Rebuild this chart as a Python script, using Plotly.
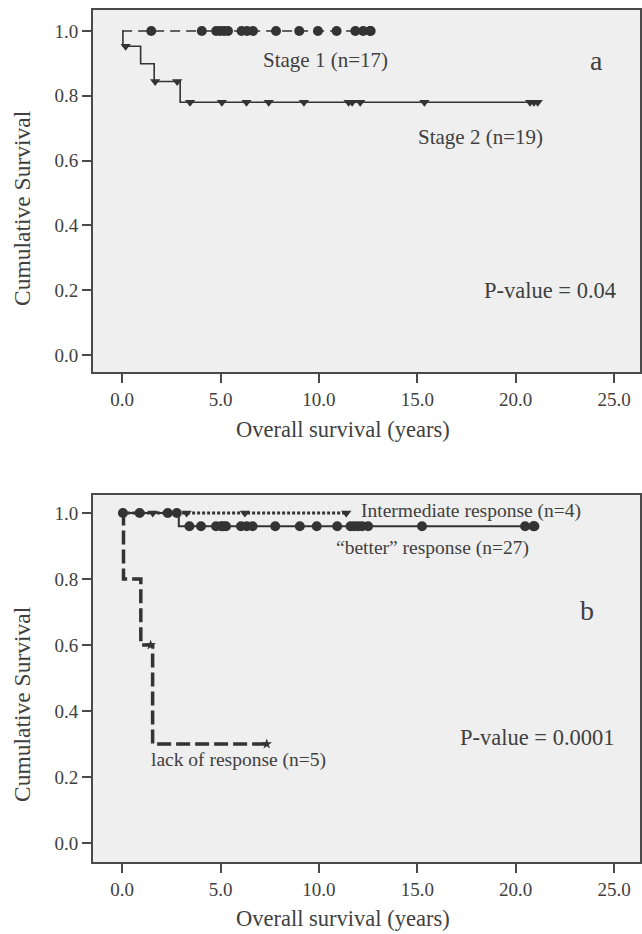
import plotly.graph_objects as go

W, H = 642, 934

# ---------------- data ----------------
# Panel a
stage1_event_times = []
stage1_levels = [1.0]
stage1_censor = [1.48, 4.05, 4.78, 4.98, 5.18, 5.38, 6.07, 6.35, 6.65, 7.82,
                 9.0, 9.95, 10.9, 11.85, 12.25, 12.6, 12.63]
stage2_event_times = [0.04, 0.94, 1.63, 2.95]
stage2_levels = [1.0, 0.953, 0.899, 0.844, 0.78]
stage2_censor = [0.18, 1.68, 2.8, 3.45, 5.07, 6.32, 7.45, 9.24, 11.51, 11.69,
                 12.1, 15.36, 20.73, 20.93, 21.12]

# Panel b
better_event_times = [2.88]
better_levels = [1.0, 0.96]
better_censor = [0.04, 0.89, 2.32, 2.78, 3.42, 4.01, 4.77, 5.03, 5.15, 5.28,
                 6.04, 6.33, 6.63, 7.78, 9.03, 9.89, 10.93, 11.61, 11.8, 12.0,
                 12.2, 12.5, 15.24, 20.48, 20.9, 20.95]
inter_event_times = []
inter_levels = [1.0]
inter_censor = [1.56, 3.28, 6.24, 11.39]
lack_event_times = [0.07, 0.95, 1.55]
lack_levels = [1.0, 0.8, 0.6, 0.3]
lack_censor = [1.45, 7.35]

x_tick_vals = [0, 5, 10, 15, 20, 25]
x_tick_text = ["0.0", "5.0", "10.0", "15.0", "20.0", "25.0"]
y_tick_vals = [0, 0.2, 0.4, 0.6, 0.8, 1.0]
y_tick_text = ["0.0", "0.2", "0.4", "0.6", "0.8", "1.0"]

stage_labels = ["Stage 1 (n=17)", "Stage 2 (n=19)"]
resp_labels = ["Intermediate response (n=4)", "\u201cbetter\u201d response (n=27)",
               "lack of response (n=5)"]
p_values = ["P-value = 0.04", "P-value = 0.0001"]
panel_letters = ["a", "b"]
x_title = "Overall survival (years)"
y_title = "Cumulative Survival"

# ---------------- helpers ----------------
def step_xy(event_times, levels, censor):
    end = max(list(event_times) + list(censor))
    xs = [0.0] + list(event_times) + [end]
    ys = list(levels) + [levels[-1]]
    return xs, ys


def level_at(t, event_times, levels):
    lvl = levels[0]
    for et, l in zip(event_times, levels[1:]):
        if t >= et:
            lvl = l
    return lvl


FONT = "Liberation Serif, Times New Roman, serif"
LINE = "#333333"
TXT = "#404040"

fig = go.Figure()


def add_curve(ev, lv, cz, xa, ya, dash, width, symbol, msize):
    xs, ys = step_xy(ev, lv, cz)
    fig.add_trace(go.Scatter(x=xs, y=ys, mode="lines", line_shape="hv",
                             line=dict(color=LINE, width=width, dash=dash),
                             xaxis=xa, yaxis=ya, showlegend=False, hoverinfo="skip"))
    fig.add_trace(go.Scatter(x=cz, y=[level_at(t, ev, lv) for t in cz], mode="markers",
                             marker=dict(symbol=symbol, size=msize, color=LINE,
                                         line=dict(width=0)),
                             xaxis=xa, yaxis=ya, showlegend=False, hoverinfo="skip"))


# panel a
add_curve(stage2_event_times, stage2_levels, stage2_censor, "x", "y", "solid", 1.6,
          "triangle-down", 9)
add_curve(stage1_event_times, stage1_levels, stage1_censor, "x", "y", "10px,6px", 1.6,
          "circle", 10)
# panel b
add_curve(lack_event_times, lack_levels, lack_censor, "x2", "y2", "14px,5px", 3.5,
          "star", 8)
add_curve(better_event_times, better_levels, better_censor, "x2", "y2", "solid", 2,
          "circle", 10)
add_curve(inter_event_times, inter_levels, inter_censor, "x2", "y2", "3px,2px", 3.2,
          "triangle-down", 9)

# ---------------- layout geometry (pixels -> paper) ----------------
def py(p):
    return 1 - p / H

x_dom = [93.3 / W, 1.0]
# x: 0 at 122.5 px, 19.74 px/yr
x_rng = [(93.3 - 122.5) / 19.74, (642 - 122.5) / 19.74]
# panel a y: 1.0 at 31, 0 at 355
ya_dom = [py(372), py(10)]
ya_rng = [-(372 - 355) / 324, 1 + (31 - 10) / 324]
# panel b y: 1.0 at 513, 0 at 843
yb_dom = [py(862), py(495)]
yb_rng = [-(862 - 843) / 330, 1 + (513 - 495) / 330]

axis_common = dict(showline=True, mirror=True, linecolor="#4a4a4a", linewidth=2,
                   showgrid=False, zeroline=False, ticks="outside", ticklen=9,
                   tickwidth=2, tickcolor="#4a4a4a",
                   tickfont=dict(family=FONT, size=19, color=TXT), fixedrange=True)

fig.update_layout(
    width=W, height=H, margin=dict(l=0, r=0, t=0, b=0),
    paper_bgcolor="white", plot_bgcolor="#efefef",
    xaxis=dict(domain=x_dom, range=x_rng, anchor="y", tickvals=x_tick_vals,
               ticktext=x_tick_text, **axis_common),
    yaxis=dict(domain=ya_dom, range=ya_rng, anchor="x", tickvals=y_tick_vals,
               ticktext=y_tick_text, **axis_common),
    xaxis2=dict(domain=x_dom, range=x_rng, anchor="y2", tickvals=x_tick_vals,
                ticktext=x_tick_text, **axis_common),
    yaxis2=dict(domain=yb_dom, range=yb_rng, anchor="x2", tickvals=y_tick_vals,
                ticktext=y_tick_text, **axis_common),
)


def ann(text, x, y, xref, yref, size, **kw):
    fig.add_annotation(text=text, x=x, y=y, xref=xref, yref=yref, showarrow=False,
                       xanchor="center", yanchor="middle",
                       font=dict(family=FONT, size=size, color=TXT), **kw)


# panel a texts
ann(stage_labels[0], 10.36, 0.91, "x", "y", 21)
ann(stage_labels[1], 18.22, 0.672, "x", "y", 21)
ann(panel_letters[0], 24.13, 0.91, "x", "y", 28)
ann(p_values[0], 21.73, 0.20, "x", "y", 22.5)
# panel b texts
ann(resp_labels[0], 17.75, 1.006, "x2", "y2", 19.5)
ann(resp_labels[1], 15.75, 0.893, "x2", "y2", 19.5)
ann(resp_labels[2], 5.91, 0.2515, "x2", "y2", 19.5)
ann(panel_letters[1], 23.62, 0.706, "x2", "y2", 28)
ann(p_values[1], 21.11, 0.319, "x2", "y2", 22.5)

# axis titles
ann(x_title, 344 / W, py(430), "paper", "paper", 22.5)
ann(x_title, 344 / W, py(918), "paper", "paper", 22.5)
ann(y_title, 22 / W, py(208), "paper", "paper", 23.5, textangle=-90)
ann(y_title, 22 / W, py(704), "paper", "paper", 23.5, textangle=-90)

fig.write_html("out.html", config={"displayModeBar": False},
               post_script="document.body.style.margin='0';"
                           "document.body.style.overflow='hidden';")
